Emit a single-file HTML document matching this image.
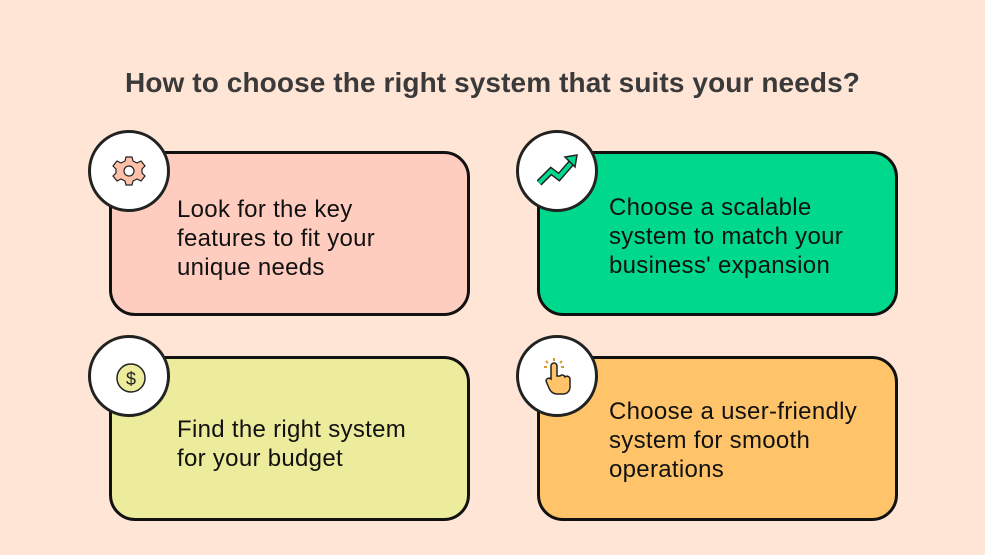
<!DOCTYPE html>
<html><head><style>
body{margin:0;width:985px;height:555px;background:#fee5d5;position:relative;overflow:hidden;font-family:"Liberation Sans",sans-serif;}
.t{position:absolute;left:0;width:985px;top:67px;text-align:center;font-size:28px;font-weight:bold;color:#3a3a3a;letter-spacing:0.1px;}
.b{position:absolute;border:3px solid #111;border-radius:26px;box-sizing:border-box;}
.c{position:absolute;width:82px;height:82px;border:3px solid #222;border-radius:50%;background:#fff;box-sizing:border-box;}
.c svg{position:absolute;left:18px;top:18px;}
.x{position:absolute;font-size:24px;line-height:29px;color:#111;letter-spacing:0.3px;}
</style></head><body>
<div class="t">How to choose the right system that suits your needs?</div>

<div class="b" style="left:109px;top:151px;width:361px;height:165px;background:#ffcdbf"></div>
<div class="b" style="left:537px;top:151px;width:361px;height:165px;background:#00d98b"></div>
<div class="b" style="left:109px;top:356px;width:361px;height:165px;background:#ecec9c"></div>
<div class="b" style="left:537px;top:356px;width:361px;height:165px;background:#ffc469"></div>

<div class="c" style="left:88px;top:130px"><svg width="40" height="40" viewBox="0 0 40 40"><path d="M17 6h6l1 4 4 2 4-2 4 5-3 3v4l3 3-4 5-4-2-4 2-1 4h-6l-1-4-4-2-4 2-4-5 3-3v-4l-3-3 4-5 4 2 4-2z" fill="#ffc0aa" stroke="#222" stroke-width="1.2"/><circle cx="20" cy="20" r="5" fill="#fff" stroke="#222" stroke-width="1.2"/></svg></div>
<div class="c" style="left:516px;top:130px"><svg width="44" height="40" viewBox="0 0 44 40"><polyline points="2,32 14,20 22,26 36,10" fill="none" stroke="#222" stroke-width="7"/><polyline points="2,32 14,20 22,26 36,10" fill="none" stroke="#00d98b" stroke-width="4"/><polygon points="28,6 40,4 38,16" fill="#00d98b" stroke="#222" stroke-width="1.5"/></svg></div>
<div class="c" style="left:88px;top:335px"><svg width="40" height="40" viewBox="0 0 40 40"><circle cx="22" cy="22" r="14" fill="#ecec9c" stroke="#222" stroke-width="1.5"/><text x="22" y="29" text-anchor="middle" font-size="18" font-family="Liberation Sans" fill="#222">$</text></svg></div>
<div class="c" style="left:516px;top:335px"><svg width="44" height="44" viewBox="0 0 44 44"><path d="M14 22V10a3 3 0 0 1 6 0v10l3 0a3 3 0 0 1 5 1 3 3 0 0 1 5 2v8c0 4-3 7-7 7h-6c-4 0-7-3-8-6l-3-7a3 3 0 0 1 5-2z" fill="#ffc469" stroke="#222" stroke-width="1.5"/><path d="M17 2v3M9 5l2 2M25 5l-2 2M7 11h3M24 11h3" stroke="#d99b2b" stroke-width="2"/></svg></div>

<div class="x" style="left:177px;top:195px">Look for the key<br>features to fit your<br>unique needs</div>
<div class="x" style="left:609px;top:193px">Choose a scalable<br>system to match your<br>business' expansion</div>
<div class="x" style="left:177px;top:415px">Find the right system<br>for your budget</div>
<div class="x" style="left:609px;top:397px">Choose a user-friendly<br>system for smooth<br>operations</div>
</body></html>
